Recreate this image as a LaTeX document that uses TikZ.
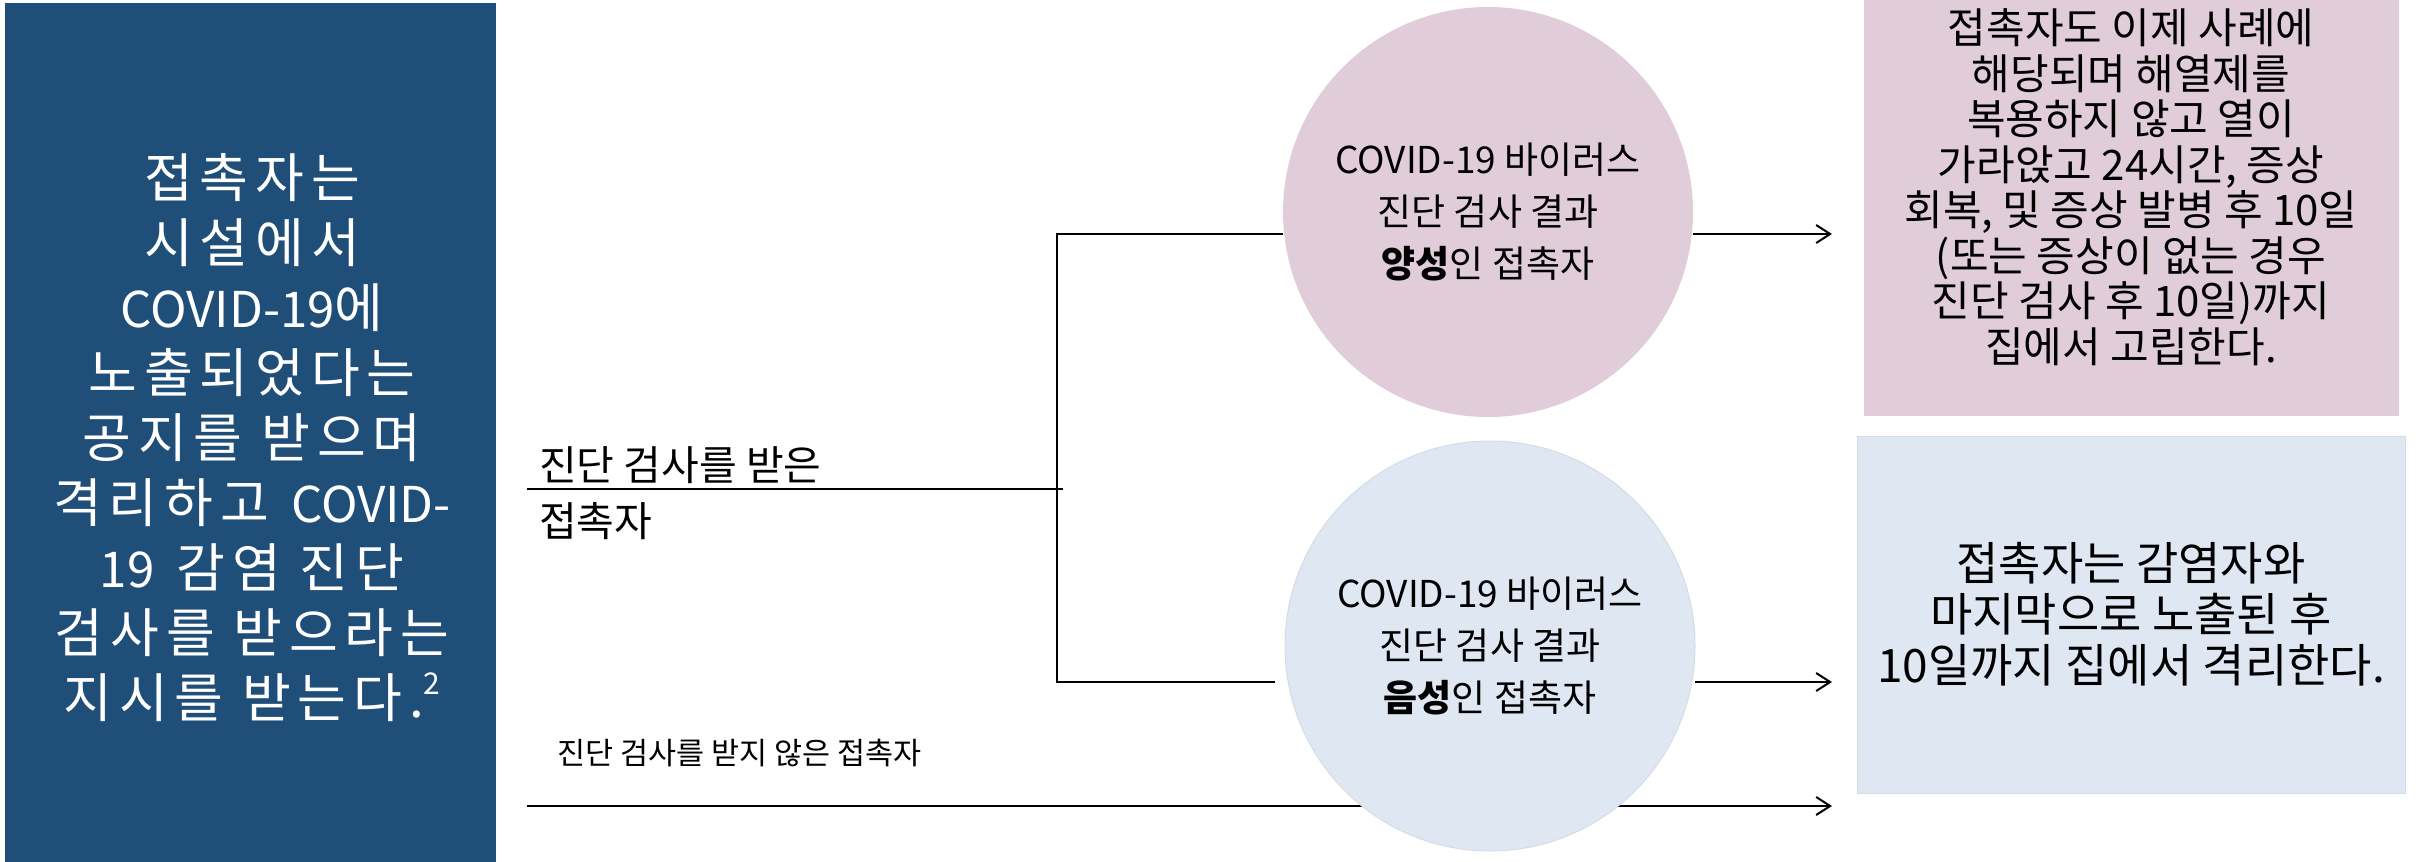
\documentclass[tikz,border=0pt]{standalone}
\usepackage{fontspec}
\setmainfont{Noto Sans CJK KR}
\newfontfamily\hs[LetterSpace=13]{Noto Sans CJK KR}
\newfontfamily\ls[Scale=0.93]{Noto Sans CJK KR}
\usetikzlibrary{arrows.meta}
\definecolor{navy}{HTML}{1F4E79}
\definecolor{pinkc}{HTML}{E1CDDA}
\definecolor{bluec}{HTML}{DEE7F2}
\definecolor{blueedge}{HTML}{D6DCE4}
\begin{document}
\begin{tikzpicture}[x=1pt,y=-1pt,
  panel/.style={rectangle, inner sep=0pt, outer sep=0pt},
  circ/.style={circle, inner sep=0pt, outer sep=0pt, minimum size=410pt, align=center,
     font=\fontsize{37}{52}\selectfont},
  thinline/.style={line width=1.6pt, black},
  mainline/.style={line width=2.8pt, black},
  arr/.style={line width=2.6pt, black, -{Straight Barb[length=14pt,width=18pt,line width=2pt]}},
  lbl/.style={inner sep=0pt, anchor=west, align=left}
]
\useasboundingbox (0,0) rectangle (2418,862);

% left panel
\node[panel, fill=navy, minimum width=491pt, minimum height=859pt] (intro) at (250.5,432.5) {};
\node[inner sep=0pt, align=center, text=white, font=\fontsize{53}{65}\selectfont] (introtxt) at (252,438)
  {{\hs 접촉자는}\\{\hs 시설에서}\\{\ls COVID-19}{\hs 에}\\{\hs 노출되었다는}\\{\hs 공지를 받으며}\\{\hs 격리하고}\hspace{0.42em}{\ls COVID-}\\{\ls 19}\hspace{0.42em}{\hs 감염 진단}\\{\hs 검사를 받으라는}\\{\hs 지시를 받는다.}\raisebox{0.45em}{\fontsize{30}{30}\selectfont 2}};

% result boxes
\node[panel, fill=pinkc, minimum width=535pt, minimum height=416pt] (posbox) at (2131.5,208) {};
\node[inner sep=0pt, align=center, font=\fontsize{42}{45.5}\selectfont] (postxt) at (2131,187)
  {접촉자도 이제 사례에\\해당되며 해열제를\\복용하지 않고 열이\\가라앉고 24시간, 증상\\회복, 및 증상 발병 후 10일\\(또는 증상이 없는 경우\\진단 검사 후 10일)까지\\집에서 고립한다.};
\node[panel, fill=bluec, draw=blueedge, line width=1pt, minimum width=548pt, minimum height=357pt,
  align=center, font=\fontsize{46}{51}\selectfont] (negbox) at (2131,614.5)
  {접촉자는 감염자와\\마지막으로 노출된 후\\10일까지 집에서 격리한다.};

% coordinates
\coordinate (start1) at (527,489);
\coordinate (junc) at (1063,489);
\coordinate (jtop) at (1057,234);
\coordinate (jbot) at (1057,682);
\coordinate (start2) at (527,806);
\coordinate (tipx) at (1832,0);

% labels
\node[lbl, font=\fontsize{41}{56}\selectfont] (testedlbl) at (539,493) {진단 검사를 받은\\접촉자};
\node[lbl, font=\fontsize{30.5}{36}\selectfont] (untestedlbl) at (557,753) {진단 검사를 받지 않은 접촉자};

% untested arrow (behind circle)
\draw[arr] (start2) -- (tipx |- start2);
\draw[mainline] (start1) -- (junc);

% circles
\node[circ, fill=pinkc] (pos) at (1488,212) {COVID-19 바이러스\\진단 검사 결과\\\textbf{양성}인 접촉자};
\node[circ, fill=bluec, draw=blueedge, line width=1pt] (neg) at (1490,646) {COVID-19 바이러스\\진단 검사 결과\\\textbf{음성}인 접촉자};

% bracket
\draw[thinline] (jtop -| pos.west) -- (jtop) -- (jbot) -- ([xshift=-10pt]jbot -| neg.west);

% arrows to results
\draw[arr] (jtop -| pos.east) -- (tipx |- jtop);
\draw[arr] (jbot -| neg.east) -- (tipx |- jbot);
\end{tikzpicture}
\end{document}
